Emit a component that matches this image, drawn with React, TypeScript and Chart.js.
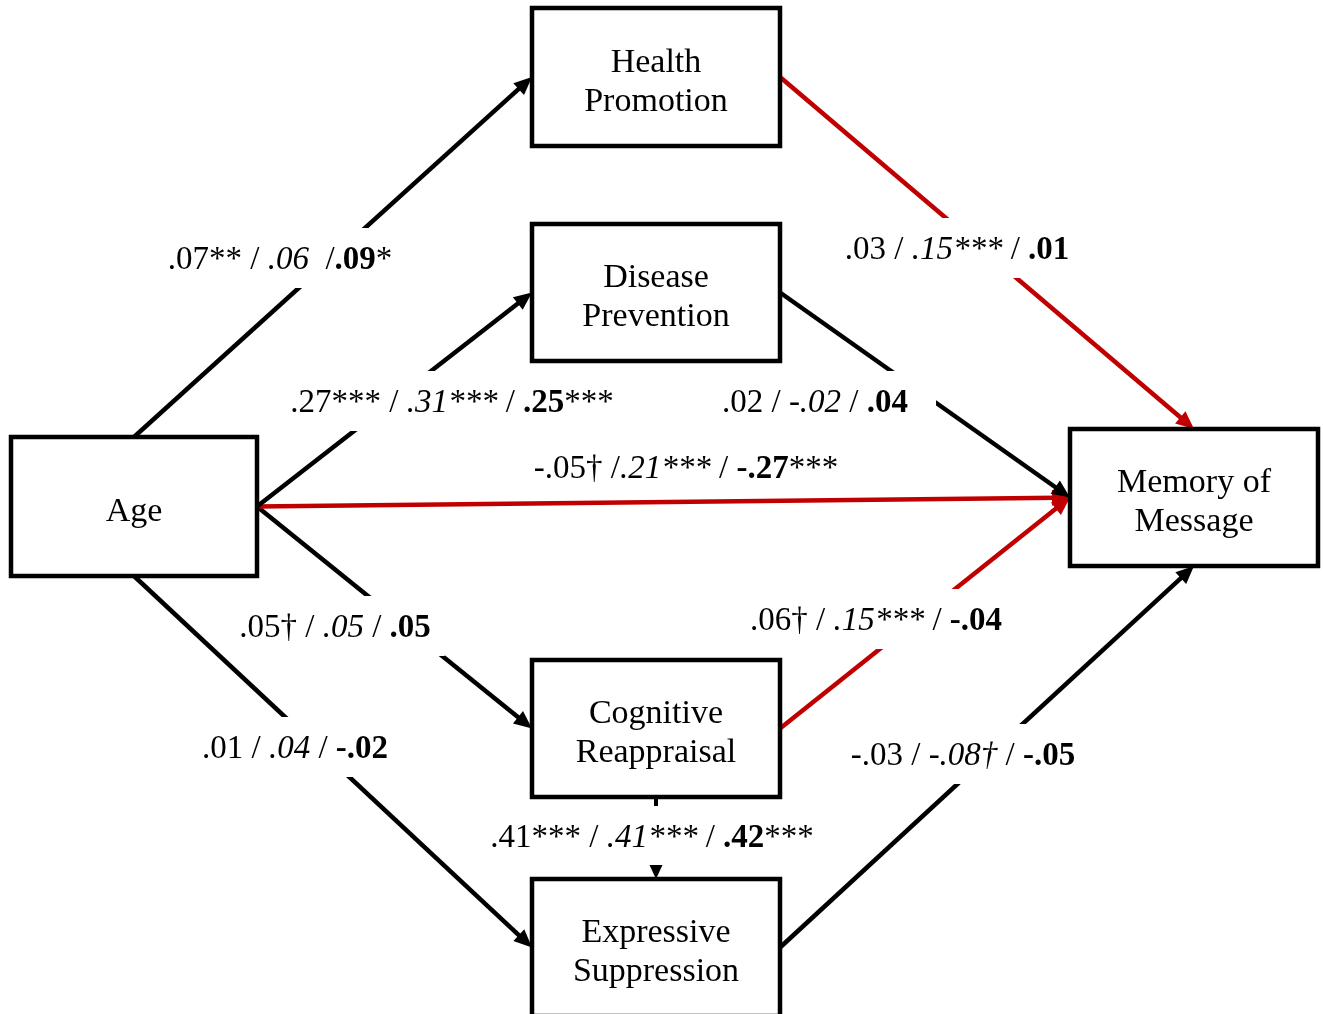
import React, { useEffect, useRef } from 'react';
import { Chart, registerables } from 'chart.js';

Chart.register(...registerables);

const SERIF = '"Liberation Serif", "Times New Roman", Times, serif';
const PATH_RED = '#c00000';
const INK = '#000000';

// Constructs in the model
const constructs = [
  'Age',
  'Health\nPromotion',
  'Disease\nPrevention',
  'Memory of\nMessage',
  'Cognitive\nReappraisal',
  'Expressive\nSuppression',
];

// Box layout in diagram units (origin top-left)
const boxLeft = [11, 532, 532, 1070, 532, 532];
const boxRight = [257, 780, 780, 1318, 780, 780];
const boxTop = [437, 8, 224, 429, 660, 879];
const boxBottom = [576, 146, 361, 566, 797, 1016];

// Paths: source -> target
const pathSource = [0, 0, 0, 0, 0, 1, 2, 4, 5, 4];
const pathTarget = [1, 2, 3, 4, 5, 3, 3, 3, 3, 5];
const sourceSide = ['top', 'right', 'right', 'right', 'bottom', 'right', 'right', 'right', 'right', 'bottom'];
const targetSide = ['left', 'left', 'left', 'left', 'left', 'top', 'left', 'left', 'bottom', 'top'];
const pathHighlighted = [false, false, true, false, false, true, false, true, false, false];
const pathMinor = [false, false, false, false, false, false, false, false, false, true];

// Path coefficients: regular / italic / bold
const coefRegular = ['.07**', '.27***', '-.05†', '.05†', '.01', '.03', '.02', '.06†', '-.03', '.41***'];
const coefItalic = ['.06', '.31***', '.21***', '.05', '.04', '.15***', '-.02', '.15***', '-.08†', '.41***'];
const coefBold = ['.09*', '.25***', '-.27***', '.05', '-.02', '.01', '.04', '-.04', '-.05', '.42***'];
const firstSeparator = [' / ', ' / ', ' /', ' / ', ' / ', ' / ', ' / ', ' / ', ' / ', ' / '];
const secondSeparator = ['  /', ' / ', ' / ', ' / ', ' / ', ' / ', ' / ', ' / ', ' / ', ' / '];

// Coefficient label centres
const labelX = [280, 452, 686, 335, 295, 957, 815, 876, 963, 652];
const labelY = [258, 401, 467, 626, 747, 248, 401, 619, 754, 836];
const labelMasksPath = [true, true, false, true, true, true, true, true, true, true];
const labelMaskPad = [14, 14, 14, 14, 14, 14, 28, 14, 14, 14];

const LABEL_SIZE = 33;
const BOX_SIZE = 34;
const LINE_GAP = 39;

type Pt = { x: number; y: number };

function anchor(i: number, side: string): Pt {
  const cx = (boxLeft[i] + boxRight[i]) / 2;
  const cy = (boxTop[i] + boxBottom[i]) / 2;
  if (side === 'top') return { x: cx, y: boxTop[i] };
  if (side === 'bottom') return { x: cx, y: boxBottom[i] };
  if (side === 'left') return { x: boxLeft[i], y: cy };
  return { x: boxRight[i], y: cy };
}

function arrowSize(i: number) {
  return pathMinor[i] ? { len: 14, half: 6.5 } : { len: 18, half: 8 };
}

function pathData(i: number): Pt[] {
  const s = anchor(pathSource[i], sourceSide[i]);
  const e = anchor(pathTarget[i], targetSide[i]);
  const dx = e.x - s.x;
  const dy = e.y - s.y;
  const d = Math.hypot(dx, dy);
  const back = arrowSize(i).len * 0.7;
  return [s, { x: e.x - (dx / d) * back, y: e.y - (dy / d) * back }];
}

type Seg = { text: string; font: string };

function fontOf(style: string) {
  return `${style ? style + ' ' : ''}${LABEL_SIZE}px ${SERIF}`;
}

function splitCoef(s: string, style: string, markStyle: string): Seg[] {
  const m = s.match(/^(-?\.\d+)(.*)$/);
  if (!m) return [{ text: s, font: fontOf(style) }];
  const out: Seg[] = [{ text: m[1], font: fontOf(style) }];
  if (m[2]) out.push({ text: m[2], font: fontOf(markStyle) });
  return out;
}

function labelSegments(i: number): Seg[] {
  return [
    ...splitCoef(coefRegular[i], '', ''),
    { text: firstSeparator[i], font: fontOf('') },
    ...splitCoef(coefItalic[i], 'italic', 'italic'),
    { text: secondSeparator[i], font: fontOf('') },
    ...splitCoef(coefBold[i], 'bold', ''),
  ];
}

const diagramPlugin = {
  id: 'pathDiagram',
  afterDatasetsDraw(chart: any) {
    const { ctx } = chart;
    const xs = chart.scales.x;
    const ys = chart.scales.y;
    const px = (v: number) => xs.getPixelForValue(v);
    const py = (v: number) => ys.getPixelForValue(v);

    // measure labels
    const measured = labelX.map((_, i) => {
      const segs = labelSegments(i);
      let w = 0;
      const widths = segs.map((sg) => {
        ctx.font = sg.font;
        const mw = ctx.measureText(sg.text).width;
        w += mw;
        return mw;
      });
      return { segs, widths, w };
    });

    ctx.save();
    // white masks where labels interrupt the paths
    ctx.fillStyle = '#ffffff';
    labelX.forEach((lx, i) => {
      if (!labelMasksPath[i]) return;
      const cx = px(lx);
      const cy = py(labelY[i]);
      const w = measured[i].w + 2 * labelMaskPad[i];
      ctx.fillRect(cx - w / 2, cy - 30, w, 60);
    });

    // arrowheads
    pathSource.forEach((_, i) => {
      const s = anchor(pathSource[i], sourceSide[i]);
      const e = anchor(pathTarget[i], targetSide[i]);
      const sx = px(s.x), sy = py(s.y), ex = px(e.x), ey = py(e.y);
      const d = Math.hypot(ex - sx, ey - sy);
      const ux = (ex - sx) / d, uy = (ey - sy) / d;
      const { len, half } = arrowSize(i);
      const bx = ex - ux * len, by = ey - uy * len;
      ctx.fillStyle = pathHighlighted[i] ? PATH_RED : INK;
      ctx.beginPath();
      ctx.moveTo(ex, ey);
      ctx.lineTo(bx - uy * half, by + ux * half);
      ctx.lineTo(bx + uy * half, by - ux * half);
      ctx.closePath();
      ctx.fill();
    });

    // construct boxes
    constructs.forEach((name, i) => {
      const x0 = px(boxLeft[i]), x1 = px(boxRight[i]);
      const y0 = py(boxTop[i]), y1 = py(boxBottom[i]);
      ctx.fillStyle = '#ffffff';
      ctx.fillRect(x0, y0, x1 - x0, y1 - y0);
      ctx.strokeStyle = INK;
      ctx.lineWidth = 4.5;
      ctx.strokeRect(x0, y0, x1 - x0, y1 - y0);
      const lines = name.split('\n');
      const cx = (x0 + x1) / 2;
      const cy = (y0 + y1) / 2;
      ctx.fillStyle = INK;
      ctx.font = `${BOX_SIZE}px ${SERIF}`;
      ctx.textAlign = 'center';
      ctx.textBaseline = 'alphabetic';
      lines.forEach((ln, k) => {
        const base = cy + BOX_SIZE * 0.42 + (k - (lines.length - 1) / 2) * LINE_GAP;
        ctx.fillText(ln, cx, base);
      });
    });

    // coefficient labels
    ctx.textAlign = 'left';
    ctx.textBaseline = 'alphabetic';
    ctx.fillStyle = INK;
    labelX.forEach((lx, i) => {
      const { segs, widths, w } = measured[i];
      let x = px(lx) - w / 2;
      const base = py(labelY[i]) + LABEL_SIZE * 0.34;
      segs.forEach((sg, k) => {
        ctx.font = sg.font;
        ctx.fillText(sg.text, x, base);
        x += widths[k];
      });
    });
    ctx.restore();
  },
};

export default function App() {
  const canvasRef = useRef<HTMLCanvasElement | null>(null);

  useEffect(() => {
    document.body.style.margin = '0';
    const canvas = canvasRef.current;
    if (!canvas) return;
    const chart = new Chart(canvas, {
      type: 'scatter',
      data: {
        datasets: pathSource.map((_, i) => ({
          label: constructs[pathSource[i]] + ' → ' + constructs[pathTarget[i]],
          data: pathData(i),
          showLine: true,
          borderColor: pathHighlighted[i] ? PATH_RED : INK,
          borderWidth: pathMinor[i] ? 4 : 4.5,
          pointRadius: 0,
          pointHoverRadius: 0,
          fill: false,
        })),
      },
      options: {
        animation: false,
        responsive: false,
        devicePixelRatio: 1,
        events: [],
        layout: { padding: 0 },
        plugins: {
          legend: { display: false },
          tooltip: { enabled: false },
          title: { display: false },
        },
        scales: {
          x: { type: 'linear', min: 0, max: 1323, display: false },
          y: { type: 'linear', min: 0, max: 1014, reverse: true, display: false },
        },
      },
      plugins: [diagramPlugin],
    });
    return () => chart.destroy();
  }, []);

  return (
    <div style={{ width: 1323, height: 1014, background: '#ffffff' }}>
      <canvas ref={canvasRef} width={1323} height={1014} style={{ display: 'block' }} />
    </div>
  );
}
